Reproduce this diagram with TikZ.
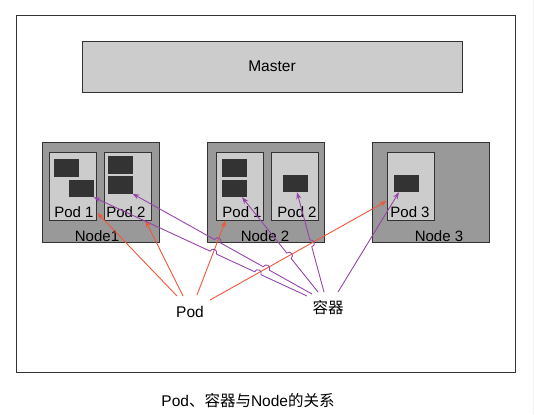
\documentclass[tikz,border=0pt]{standalone}
\usepackage{fontspec}
\setmainfont{Liberation Sans}
\newfontfamily\cjk{Noto Sans CJK SC}
\usetikzlibrary{arrows.meta,calc,intersections}
\definecolor{nodegray}{HTML}{999999}
\definecolor{podgray}{HTML}{CCCCCC}
\definecolor{boxdark}{HTML}{333333}
\definecolor{podred}{RGB}{242,86,58}
\definecolor{ctrpurple}{RGB}{150,70,170}

\begin{document}
\begin{tikzpicture}[x=1pt,y=-1pt,
  box/.style={draw=boxdark,line width=0.8pt,inner sep=0pt},
  nodebox/.style={box,fill=nodegray,minimum width=117pt,minimum height=100pt},
  podbox/.style={box,fill=podgray,minimum width=47pt,minimum height=68pt},
  ctrbox/.style={box,fill=boxdark,minimum width=24pt,minimum height=16.5pt},
  lbl/.style={font=\fontsize{15}{17}\selectfont,inner sep=1pt},
  biglbl/.style={font=\fontsize{15.5}{18}\selectfont,inner sep=1pt},
  podarrow/.style={draw=podred,line width=0.9pt,-{Stealth[length=7pt,width=5pt]}},
  ctrarrow/.style={draw=ctrpurple,line width=0.9pt,-{Stealth[length=7pt,width=5pt]}},
  hop/.style={bend right=90,looseness=1.7}]
  \useasboundingbox (0,0) rectangle (534,414);
  \draw[gray!12,line width=1pt] (533,0) -- (533,414);
  % Frame and master
  \draw[boxdark,line width=0.8pt] (16,15) rectangle (515,372);
  \node[box,fill=podgray,minimum width=380pt,minimum height=51pt,biglbl] (master) at (272,66.5) {Master};
  % Nodes and pods
  \foreach \n/\x in {n1/100.5,n2/265.5,n3/430.5}
    \node[nodebox] (\n) at (\x,192.5) {};
  \foreach \p/\x in {n1p1/72.5,n1p2/127.5,n2p1/239.5,n2p2/294.5,n3p3/410.5}
    \node[podbox] (\p) at (\x,186) {};
  % Containers
  \node[ctrbox] (n1p1c1) at (66,168) {};
  \node[ctrbox] (n1p1c2) at (81,188.5) {};
  \node[ctrbox] (n1p2c1) at (120,165) {};
  \node[ctrbox] (n1p2c2) at (120,185) {};
  \node[ctrbox] (n2p1c1) at (234,168) {};
  \node[ctrbox] (n2p1c2) at (234,188.5) {};
  \node[ctrbox] (n2p2c) at (295,183.5) {};
  \node[ctrbox] (n3c) at (406,183.5) {};
  % Labels
  \node[lbl] (pl1) at (74,212) {Pod 1};
  \node[lbl] (pl2) at (126,212) {Pod 2};
  \node[lbl] (pl3) at (242,212) {Pod 1};
  \node[lbl] (pl4) at (297,212) {Pod 2};
  \node[lbl] (pl5) at (410,212) {Pod 3};
  \node[lbl] (nl1) at (97,236) {Node1};
  \node[lbl] (nl2) at (265,236) {Node 2};
  \node[lbl] (nl3) at (439,236) {Node 3};
  \node[biglbl] (podlbl) at (190,312) {Pod};
  \node[biglbl,font=\cjk\fontsize{15.5}{18}\selectfont] (ctrlbl) at (328,308) {容器};
  \node[biglbl] (caption) at (248,401) {Pod{\cjk 、容器与}Node{\cjk 的关系}};
  % Pod arrows
  \draw[podarrow] ([shift={(-13,-16)}]podlbl.center) -- ([shift={(1,27)}]n1p1.east);
  \draw[podarrow] ([shift={(-7,-16)}]podlbl.center) -- ([shift={(-6,0)}]n1p2.south east);
  \draw[podarrow,name path=r3] ([shift={(7,-17)}]podlbl.center) -- ([shift={(10,0)}]n2p1.south west);
  \draw[podarrow,name path=r4] ([shift={(20,-12)}]podlbl.center) -- ([shift={(0,15)}]n3p3.west);
  % Container arrows, with hops over the pod arrows
  \coordinate (cs1) at ([shift={(-21,-12)}]ctrlbl.center);
  \coordinate (cs2) at ([shift={(-16,-14)}]ctrlbl.center);
  \coordinate (cs3) at ([shift={(-10,-16)}]ctrlbl.center);
  \coordinate (cs4) at ([shift={(-4,-16)}]ctrlbl.center);
  \coordinate (cs5) at ([shift={(10,-16)}]ctrlbl.center);
  \coordinate (ce1) at (n1p1c2.south east);
  \coordinate (ce2) at (n1p2c2.south east);
  \coordinate (ce3) at ([shift={(8,0)}]n2p1c2.south);
  \coordinate (ce4) at ([shift={(2,0)}]n2p2c.south);
  \coordinate (ce5) at ([shift={(-7,0)}]n3c.south);
  \foreach \i in {1,...,4}
    \path[name path global=c\i] (cs\i) -- (ce\i);
  \path[name intersections={of=c1 and r4,by=h14}];
  \path[name intersections={of=c1 and r3,by=h13}];
  \path[name intersections={of=c2 and r4,by=h24}];
  \path[name intersections={of=c2 and r3,by=h23}];
  \path[name intersections={of=c3 and r4,by=h34}];
  \path[name intersections={of=c4 and r4,by=h44}];
  \draw[ctrarrow] (cs1) -- ($(h14)!3.5pt!(cs1)$) to[hop] ($(h14)!3.5pt!(ce1)$)
    -- ($(h13)!3.5pt!(cs1)$) to[hop] ($(h13)!3.5pt!(ce1)$) -- (ce1);
  \draw[ctrarrow] (cs2) -- ($(h24)!3.5pt!(cs2)$) to[hop] ($(h24)!3.5pt!(ce2)$)
    -- ($(h23)!3.5pt!(cs2)$) to[hop] ($(h23)!3.5pt!(ce2)$) -- (ce2);
  \draw[ctrarrow] (cs3) -- ($(h34)!3.5pt!(cs3)$) to[hop] ($(h34)!3.5pt!(ce3)$) -- (ce3);
  \draw[ctrarrow] (cs4) -- ($(h44)!3.5pt!(cs4)$) to[hop] ($(h44)!3.5pt!(ce4)$) -- (ce4);
  \draw[ctrarrow] (cs5) -- (ce5);
\end{tikzpicture}
\end{document}
